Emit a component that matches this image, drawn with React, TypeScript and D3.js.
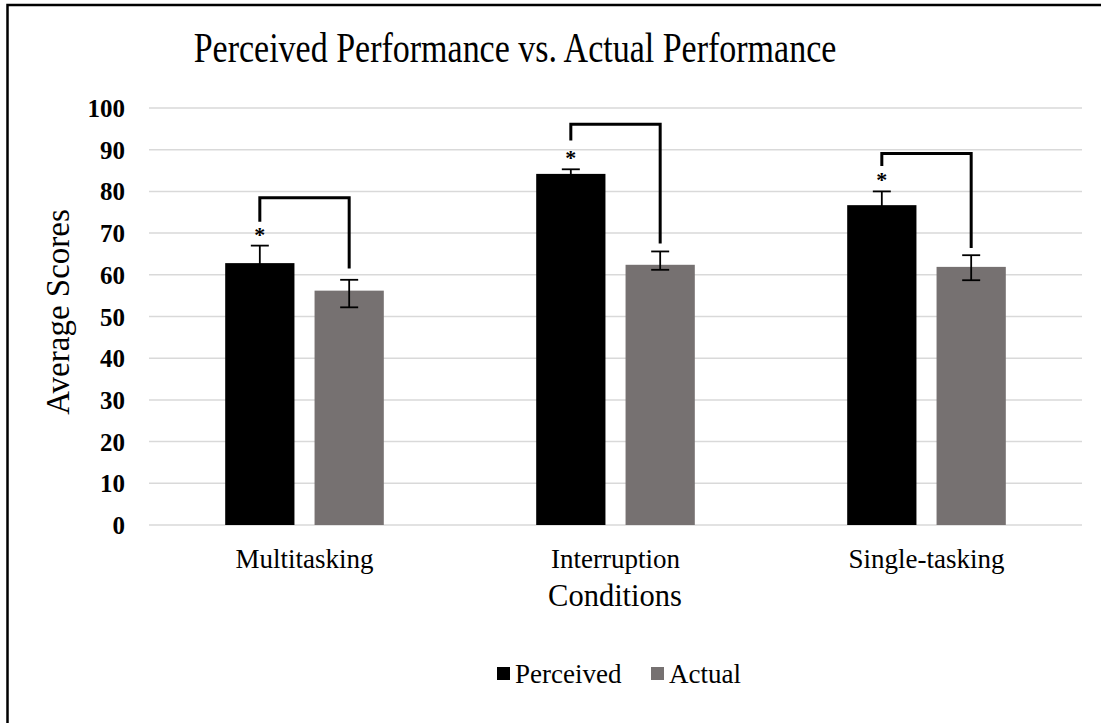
import React from "react";
import * as d3 from "d3";

const categories = ["Multitasking", "Interruption", "Single-tasking"];
const seriesNames = ["Perceived", "Actual"];
const perceived = [62.8, 84.2, 76.7];
const perceivedErrUp = [4.2, 1.1, 3.3];
const perceivedErrDown = [4.2, 1.1, 3.3];
const actual = [56.2, 62.4, 61.9];
const actualErrUp = [2.6, 3.2, 2.8];
const actualErrDown = [4.0, 1.2, 3.2];
const bracketTop = [78.5, 96.1, 89.1];
const bracketLeftEnd = [72.7, 92.2, 86.1];
const bracketRightEnd = [61.5, 67.5, 66.4];
const yTicks = [0, 10, 20, 30, 40, 50, 60, 70, 80, 90, 100];
const colors = ["#000000", "#767171"];

const W = 1101;
const H = 723;
const FONT = "'Liberation Serif', 'Times New Roman', serif";

export default function App() {
  const x = d3.scaleBand<string>().domain(categories).range([149, 1082]).paddingInner(0.49).paddingOuter(0.245);
  const xs = d3.scaleBand<string>().domain(seriesNames).range([0, x.bandwidth()]).paddingInner(0.225).paddingOuter(0);
  const y = d3.scaleLinear().domain([0, 100]).range([525, 108]);

  const series = [
    { name: seriesNames[0], values: perceived, up: perceivedErrUp, down: perceivedErrDown },
    { name: seriesNames[1], values: actual, up: actualErrUp, down: actualErrDown },
  ];

  const cx = (c: string, s: string) => (x(c) as number) + (xs(s) as number) + xs.bandwidth() / 2;

  return (
    <div style={{ position: "absolute", left: 0, top: 0 }}>
      <svg width={W} height={H} style={{ display: "block", background: "#fff" }}>
        <rect x={7.5} y={5} width={W + 10} height={H + 10} fill="#fff" stroke="#000" strokeWidth={2.5} />
        <text
          transform="translate(515,62) scale(1,1.22)"
          textAnchor="middle"
          fontFamily={FONT}
          fontSize={34}
          fill="#000"
        >
          Perceived Performance vs. Actual Performance
        </text>
        {yTicks.map((t) => (
          <g key={t}>
            <line x1={149} x2={1082} y1={y(t)} y2={y(t)} stroke="#d9d9d9" strokeWidth={1.5} />
            <text x={125} y={y(t) + 9} textAnchor="end" fontFamily={FONT} fontSize={25} fontWeight="bold" fill="#000">
              {t}
            </text>
          </g>
        ))}
        <text
          transform={`translate(${69},${312}) rotate(-90)`}
          textAnchor="middle"
          fontFamily={FONT}
          fontSize={33}
          fill="#000"
        >
          Average Scores
        </text>
        {series.map((s, si) =>
          categories.map((c, ci) => {
            const bx = (x(c) as number) + (xs(s.name) as number);
            const v = s.values[ci];
            const mx = cx(c, s.name);
            return (
              <g key={`${si}-${ci}`}>
                <rect x={bx} y={y(v)} width={xs.bandwidth()} height={y(0) - y(v)} fill={colors[si]} />
                <line x1={mx} x2={mx} y1={y(v + s.up[ci])} y2={y(v - s.down[ci])} stroke="#000" strokeWidth={1.8} />
                <line x1={mx - 9} x2={mx + 9} y1={y(v + s.up[ci])} y2={y(v + s.up[ci])} stroke="#000" strokeWidth={1.8} />
                <line x1={mx - 9} x2={mx + 9} y1={y(v - s.down[ci])} y2={y(v - s.down[ci])} stroke="#000" strokeWidth={1.8} />
              </g>
            );
          })
        )}
        {categories.map((c, ci) => {
          const lx = cx(c, seriesNames[0]);
          const rx = cx(c, seriesNames[1]);
          const starY = y(perceived[ci] + perceivedErrUp[ci]) - 14;
          return (
            <g key={`b-${ci}`}>
              <path
                d={`M${lx},${y(bracketLeftEnd[ci])}V${y(bracketTop[ci])}H${rx}V${y(bracketRightEnd[ci])}`}
                fill="none"
                stroke="#000"
                strokeWidth={3}
              />
              <text x={lx} y={starY + 10} textAnchor="middle" fontFamily={FONT} fontSize={22} fontWeight="bold" fill="#000">
                *
              </text>
              <text x={(x(c) as number) + x.bandwidth() / 2} y={568} textAnchor="middle" fontFamily={FONT} fontSize={27} fill="#000">
                {c}
              </text>
            </g>
          );
        })}
        <text x={615} y={606} textAnchor="middle" fontFamily={FONT} fontSize={30.5} fill="#000">
          Conditions
        </text>
        <g>
          <rect x={497} y={667} width={13} height={13} fill={colors[0]} />
          <text x={515} y={683} fontFamily={FONT} fontSize={27} fill="#000">
            {seriesNames[0]}
          </text>
          <rect x={651} y={667} width={13} height={13} fill={colors[1]} />
          <text x={669} y={683} fontFamily={FONT} fontSize={27} fill="#000">
            {seriesNames[1]}
          </text>
        </g>
      </svg>
    </div>
  );
}
